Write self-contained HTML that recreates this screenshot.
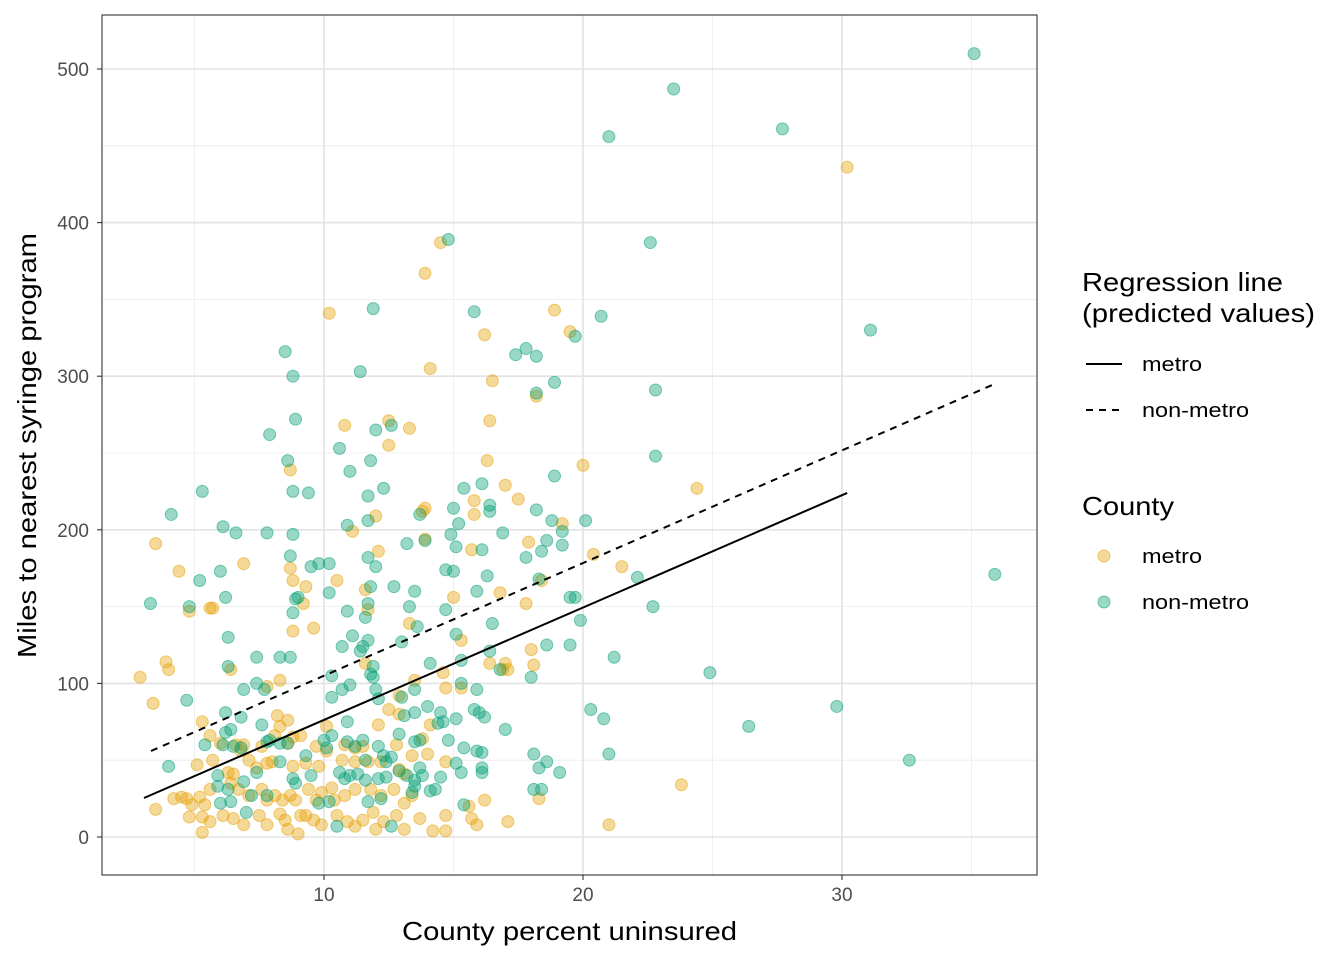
<!DOCTYPE html>
<html><head><meta charset="utf-8">
<style>
html,body{margin:0;padding:0;background:#fff;}
svg{display:block;font-family:"Liberation Sans",Arial,sans-serif;}
</style></head>
<body>
<svg id="chart" width="1344" height="960" viewBox="0 0 1344 960">
<rect x="0" y="0" width="1344" height="960" fill="#fff"/>
<g id="grid"></g>
<g id="pts"></g>
<g id="lines"></g>
<rect x="102" y="15" width="935" height="860" fill="none" stroke="#333" stroke-width="1.1"/>
<g id="axes"></g>
<text x="402" y="940" font-size="26" textLength="335" lengthAdjust="spacingAndGlyphs" fill="#000">County percent uninsured</text>
<text transform="translate(36,658) rotate(-90)" font-size="26" textLength="425" lengthAdjust="spacingAndGlyphs" fill="#000">Miles to nearest syringe program</text>
<g>
<text x="1082" y="291" font-size="26" textLength="201" lengthAdjust="spacingAndGlyphs">Regression line</text>
<text x="1082" y="322" font-size="26" textLength="233" lengthAdjust="spacingAndGlyphs">(predicted values)</text>
<line x1="1086" y1="364" x2="1122" y2="364" stroke="#000" stroke-width="2"/>
<text x="1142" y="371" font-size="20" textLength="60" lengthAdjust="spacingAndGlyphs">metro</text>
<line x1="1086" y1="410" x2="1122" y2="410" stroke="#000" stroke-width="2" stroke-dasharray="7,6"/>
<text x="1142" y="417" font-size="20" textLength="107" lengthAdjust="spacingAndGlyphs">non-metro</text>
<text x="1082" y="515" font-size="26" textLength="92" lengthAdjust="spacingAndGlyphs">County</text>
<circle cx="1104" cy="556" r="6" fill="#E69F00" fill-opacity="0.4" stroke="#E69F00" stroke-opacity="0.5"/>
<text x="1142" y="563" font-size="20" textLength="60" lengthAdjust="spacingAndGlyphs">metro</text>
<circle cx="1104" cy="602" r="6" fill="#009E73" fill-opacity="0.4" stroke="#009E73" stroke-opacity="0.5"/>
<text x="1142" y="609" font-size="20" textLength="107" lengthAdjust="spacingAndGlyphs">non-metro</text>
</g>
</svg>
<script>
const xTicks=[10,20,30];
const xMinor=[5,15,25,35];
const yTicks=[0,100,200,300,400,500];
const yMinor=[50,150,250,350,450];
const metroLine=[[3.05,25.4],[30.2,224]];
const nonMetroLine=[[3.32,56],[35.9,295]];
const metroX=[30.2,14.5,13.9,10.2,18.9,19.5,16.2,14.1,16.5,18.2,12.5,13.3,10.8,12.5,16.4,8.7,16.3,20.0,17.0,24.4,17.5,15.8,13.9,13.8,15.8,12.0,19.2,11.1,13.9,17.9,3.5,12.1,15.7,20.4,6.9,4.4,21.5,8.7,8.8,10.5,9.3,11.6,15.0,16.8,18.4,5.6,5.7,4.8,9.2,11.7,17.8,9.6,8.8,13.3,15.3,2.9,3.9,4.0,3.4,6.4,8.3,7.8,11.6,13.5,14.6,16.4,16.9,17.0,17.1,18.1,18.0,15.3,12.9,14.7,5.3,8.2,8.3,8.6,10.1,12.1,12.5,12.9,13.8,14.1,5.6,6.0,6.6,6.8,6.9,7.6,8.1,8.6,8.8,9.1,9.7,10.1,10.8,11.2,11.5,12.8,13.4,14.0,14.7,5.1,5.7,6.3,6.5,7.1,7.4,7.8,8.0,8.8,9.3,9.8,10.7,11.2,11.7,12.2,12.9,13.1,4.2,4.5,4.7,4.9,5.2,5.4,5.6,6.4,6.7,7.1,7.6,7.8,8.1,8.4,8.7,8.9,9.4,9.7,9.9,10.3,10.4,10.8,11.2,11.8,12.2,12.7,13.1,13.4,3.5,4.8,5.3,5.6,6.1,6.5,6.9,7.5,7.8,8.3,8.5,8.6,9.0,9.1,9.3,9.6,9.9,10.5,10.9,11.2,11.5,11.9,12.0,12.3,12.8,13.1,13.7,14.2,14.7,14.7,15.6,15.7,15.9,16.2,17.1,18.3,21.0,23.8,5.3];
const metroY=[436,387,367,341,343,329,327,305,297,287,271,266,268,255,271,239,245,242,229,227,220,219,214,212,210,209,204,199,194,192,191,186,187,184,178,173,176,175,167,167,163,161,156,159,167,149,149,147,152,148,152,136,134,139,128,104,114,109,87,109,102,98,113,102,107,113,109,113,109,112,122,97,92,97,75,79,72,76,72,73,83,80,64,73,66,61,60,56,60,59,66,61,65,66,59,56,60,58,59,60,53,54,49,47,50,42,41,50,45,48,49,46,48,46,50,49,49,49,44,41,25,26,25,21,26,21,31,35,31,27,31,24,27,24,27,24,31,24,29,32,24,27,31,31,27,31,22,27,18,13,13,10,14,12,8,14,8,15,11,5,2,14,14,11,8,14,10,7,11,16,5,10,14,5,12,4,4,14,20,12,8,24,10,25,8,34,3];
const nonX=[35.1,23.5,21.0,27.7,22.6,14.8,31.1,20.7,8.5,11.9,11.4,15.8,17.8,17.4,18.2,19.7,18.9,8.8,18.2,22.8,8.9,7.9,12.6,12.0,10.6,11.8,8.6,11.0,18.9,22.8,12.3,15.4,16.1,8.8,9.4,5.3,4.1,11.7,13.7,15.0,16.4,16.4,15.2,18.2,6.1,10.9,18.8,20.1,6.6,7.8,8.8,11.7,16.9,19.2,18.6,19.2,9.8,10.2,13.9,14.9,15.1,16.1,17.8,18.4,8.7,6.0,9.5,13.2,14.7,15.0,16.3,12.0,11.7,35.9,5.2,22.1,18.3,12.7,11.8,11.7,10.2,3.3,4.8,6.2,9.0,8.9,8.8,10.9,13.3,13.5,14.7,15.9,19.5,19.7,22.7,19.9,11.6,16.5,13.6,15.1,6.3,11.1,11.7,13.0,10.7,11.5,18.6,19.5,16.4,21.2,6.3,7.4,8.3,8.7,11.4,11.9,11.9,14.1,15.3,10.3,11.8,16.8,18.0,24.9,4.7,6.9,7.4,7.7,10.7,11.0,12.0,13.5,15.3,15.9,10.3,12.1,13.0,13.5,6.2,6.4,6.8,7.6,10.9,13.1,14.0,14.5,16.0,16.2,17.0,20.3,20.8,29.8,26.4,14.6,15.1,15.8,5.4,6.1,6.2,6.5,6.8,7.8,7.9,8.3,8.6,10.0,10.3,10.9,11.2,11.5,12.1,12.9,13.5,13.7,14.4,14.8,15.4,15.9,16.1,18.1,18.6,21.0,32.6,4.0,8.3,9.3,10.1,11.6,12.3,12.4,12.6,13.7,15.1,18.3,19.1,15.3,16.1,16.1,5.9,5.9,6.3,6.9,7.4,8.8,8.9,9.5,10.6,10.8,11.0,11.3,11.6,12.1,12.4,12.9,13.2,13.5,13.8,14.5,13.5,18.1,18.4,6.0,6.4,7.0,7.2,7.8,9.8,10.2,11.7,12.2,14.1,14.3,10.5,12.6,13.4,15.4];
const nonY=[510,487,456,461,387,389,330,339,316,344,303,342,318,314,313,326,296,300,289,291,272,262,268,265,253,245,245,238,235,248,227,227,230,225,224,225,210,222,210,214,216,212,204,213,202,203,206,206,198,198,197,206,198,199,193,190,178,178,193,197,189,187,182,186,183,173,176,191,174,173,170,176,182,171,167,169,168,163,163,152,159,152,150,156,156,155,146,147,150,160,148,160,156,156,150,141,143,139,137,132,130,131,128,127,124,124,125,125,121,117,111,117,117,117,121,111,104,113,115,105,106,109,104,107,89,96,100,96,96,99,96,96,100,96,91,90,91,81,81,70,78,73,75,79,85,81,81,78,70,83,77,85,72,75,77,83,60,60,68,59,58,62,63,61,61,63,66,62,59,63,59,67,62,63,74,63,58,56,55,54,49,54,50,46,49,53,58,50,53,49,52,45,48,45,42,42,45,42,40,33,31,36,42,38,35,40,42,38,40,41,37,38,39,43,40,33,40,39,37,31,31,22,23,16,27,27,22,23,23,25,30,31,7,7,29,21];

const NS='http://www.w3.org/2000/svg';
const X0=102,X1=1037,Y0=15,Y1=875;
function xs(v){return 65+v*25.9;}
function ys(v){return 837-v*1.536;}
function mk(tag,attrs,parent){const e=document.createElementNS(NS,tag);for(const k in attrs)e.setAttribute(k,attrs[k]);parent.appendChild(e);return e;}
const grid=document.getElementById('grid');
const axes=document.getElementById('axes');
mk('rect',{x:X0,y:Y0,width:X1-X0,height:Y1-Y0,fill:'#fff'},grid);
xMinor.forEach(v=>{const l=mk('line',{x1:xs(v),x2:xs(v),y1:Y0,y2:Y1,stroke:'#ebebeb','stroke-width':0.8},grid);

});
yMinor.forEach(v=>{const l=mk('line',{x1:X0,x2:X1,y1:ys(v),y2:ys(v),stroke:'#ebebeb','stroke-width':0.8},grid);

});
xTicks.forEach(v=>{const l=mk('line',{x1:xs(v),x2:xs(v),y1:Y0,y2:Y1,stroke:'#e3e3e3','stroke-width':1.6},grid);


const t=mk('line',{x1:xs(v),x2:xs(v),y1:Y1,y2:Y1+5,stroke:'#333','stroke-width':1.1},axes);


const tx=mk('text',{x:xs(v),y:Y1+26,'font-size':19,'text-anchor':'middle',fill:'#4d4d4d'},axes);tx.textContent=v;

});
yTicks.forEach(v=>{const l=mk('line',{x1:X0,x2:X1,y1:ys(v),y2:ys(v),stroke:'#e3e3e3','stroke-width':1.6},grid);


const t=mk('line',{x1:X0-5,x2:X0,y1:ys(v),y2:ys(v),stroke:'#333','stroke-width':1.1},axes);


const tx=mk('text',{x:X0-13,y:ys(v)+7,'font-size':19,'text-anchor':'end',fill:'#4d4d4d'},axes);tx.textContent=v;

});
const pts=document.getElementById('pts');
metroX.forEach((v,i)=>{const c=mk('circle',{cx:xs(v),cy:ys(metroY[i]),r:6,fill:'#E69F00','fill-opacity':0.4,stroke:'#E69F00','stroke-opacity':0.5},pts);

});
nonX.forEach((v,i)=>{const c=mk('circle',{cx:xs(v),cy:ys(nonY[i]),r:6,fill:'#009E73','fill-opacity':0.4,stroke:'#009E73','stroke-opacity':0.5},pts);

});
const lines=document.getElementById('lines');
const m=mk('line',{x1:xs(metroLine[0][0]),y1:ys(metroLine[0][1]),x2:xs(metroLine[1][0]),y2:ys(metroLine[1][1]),stroke:'#000','stroke-width':2},lines);


const n=mk('line',{x1:xs(nonMetroLine[0][0]),y1:ys(nonMetroLine[0][1]),x2:xs(nonMetroLine[1][0]),y2:ys(nonMetroLine[1][1]),stroke:'#000','stroke-width':2,'stroke-dasharray':'7,6'},lines);


</script>
</body></html>
